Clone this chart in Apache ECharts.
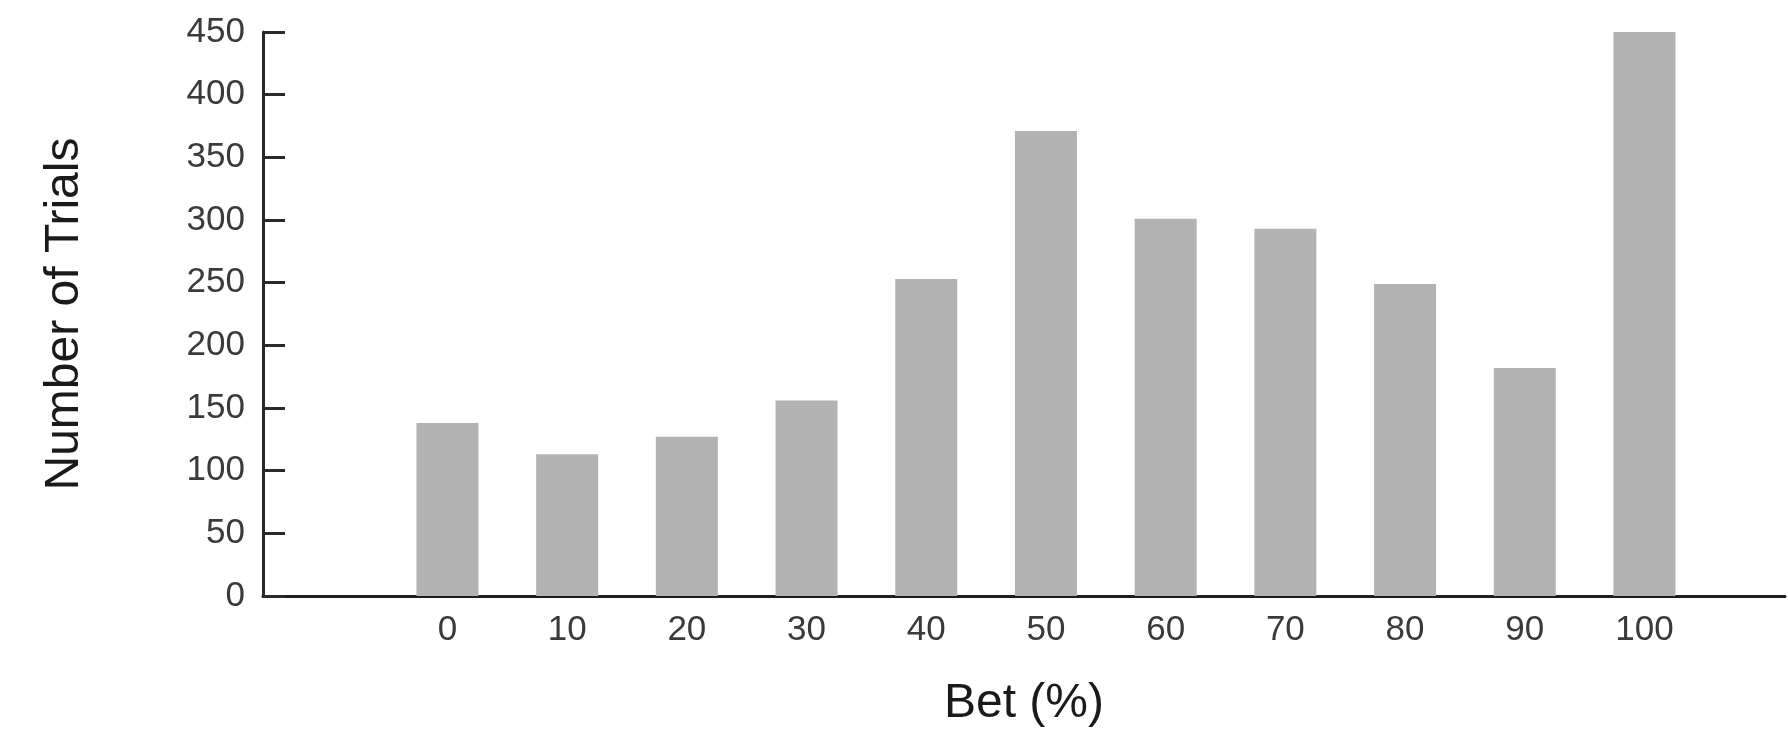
<!DOCTYPE html>
<html>
<head>
<meta charset="utf-8">
<script src="https://cdn.jsdelivr.net/npm/echarts@6/dist/echarts.min.js"></script>
<style>
html,body{margin:0;padding:0;background:#fff;}
#chart{width:1788px;height:738px;}
</style>
</head>
<body>
<div id="chart"></div>
<script>
// Bet percentages (x categories)
const betPercent = [0, 10, 20, 30, 40, 50, 60, 70, 80, 90, 100];
// Number of trials per bet
const numTrials = [138, 113, 127, 156, 253, 371, 301, 293, 249, 182, 452];
// Axis titles
const xTitle = 'Bet (%)';
const yTitle = 'Number of Trials';

const FONT = '"Liberation Sans", Arial, sans-serif';
const chart = echarts.init(document.getElementById('chart'), null, {renderer: 'canvas'});
chart.setOption({
  animation: false,
  backgroundColor: '#ffffff',
  grid: {left: 263, right: 3, top: 32, bottom: 142, outerBoundsMode: 'none'},
  xAxis: {
    type: 'value',
    min: -15.41,
    max: 111.74,
    name: xTitle,
    nameLocation: 'middle',
    nameGap: 84,
    nameTextStyle: {fontFamily: FONT, fontSize: 48, color: '#1a1a1a'},
    axisLine: {show: true, onZero: false, lineStyle: {color: '#1e1e1e', width: 3}},
    axisTick: {show: false},
    splitLine: {show: false},
    axisLabel: {
      customValues: betPercent,
      fontFamily: FONT, fontSize: 35, color: '#3a3a3a', margin: 17
    }
  },
  yAxis: {
    type: 'value',
    min: 0, max: 450, interval: 50,
    name: yTitle,
    nameLocation: 'middle',
    nameRotate: 90,
    nameGap: 174,
    nameTextStyle: {fontFamily: FONT, fontSize: 48, color: '#1a1a1a'},
    axisLine: {show: true, onZero: false, lineStyle: {color: '#2a2a2a', width: 3}},
    axisTick: {show: true, inside: true, length: 22, lineStyle: {color: '#2a2a2a', width: 3}},
    splitLine: {show: false},
    axisLabel: {fontFamily: FONT, fontSize: 35, color: '#3a3a3a', margin: 18}
  },
  series: [{
    type: 'bar',
    data: betPercent.map((b, i) => [b, numTrials[i]]),
    barWidth: 62,
    itemStyle: {color: '#b3b3b3'}
  }]
});
</script>
</body>
</html>
